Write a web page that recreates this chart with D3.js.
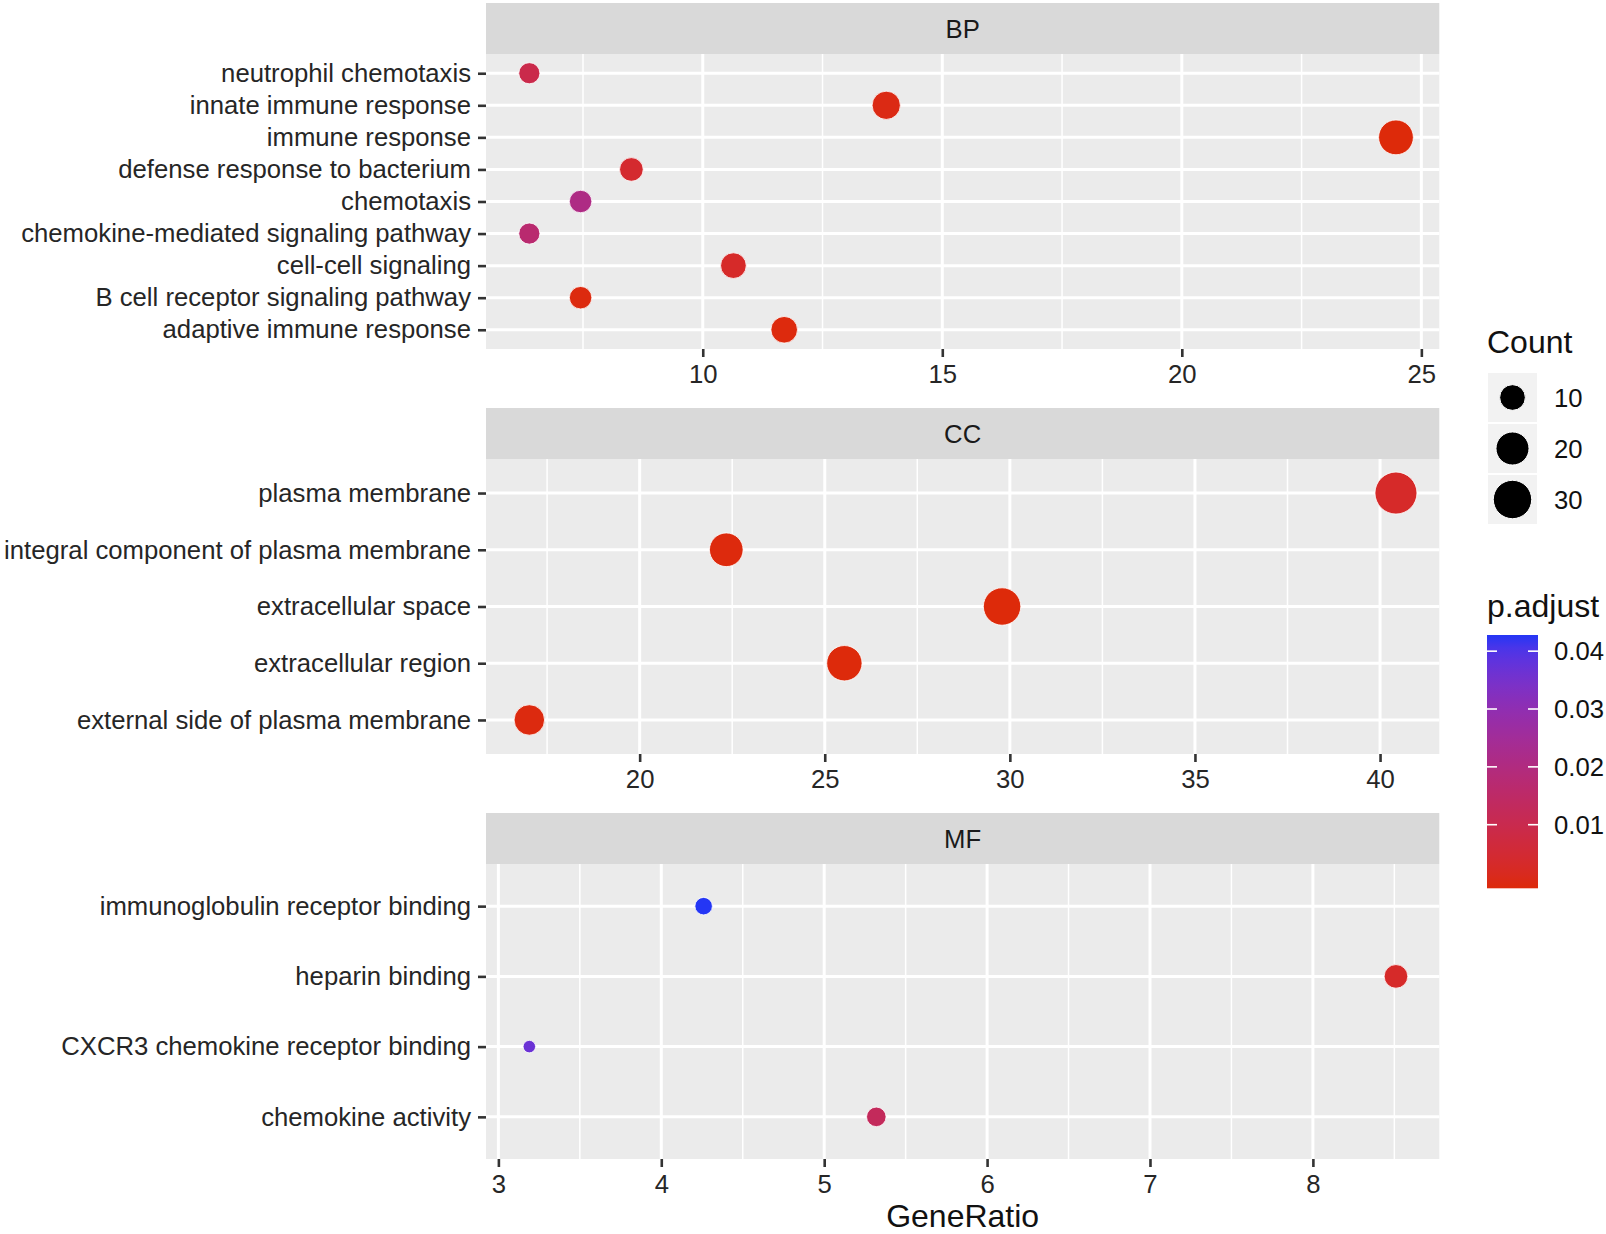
<!DOCTYPE html>
<html lang="en">
<head>
<meta charset="UTF-8">
<title>GO enrichment dotplot</title>
<style>
  body { margin: 0; background: #fff; }
  svg { display: block; font-family: "Liberation Sans", Arial, sans-serif; }
</style>
</head>
<body>
<div id="chart"></div>
<script src="https://d3js.org/d3.v7.min.js"></script>
<script>
// BP terms, top to bottom
const bpTerms = ["neutrophil chemotaxis", "innate immune response", "immune response",
  "defense response to bacterium", "chemotaxis", "chemokine-mediated signaling pathway",
  "cell-cell signaling", "B cell receptor signaling pathway", "adaptive immune response"];
const bpRatio = [6.38, 13.83, 24.47, 8.51, 7.45, 6.38, 10.64, 7.45, 11.70];
const bpCount = [6, 13, 23, 8, 7, 6, 10, 7, 11];
const bpPadj = [0.010, 0.001, 0.0001, 0.005, 0.021, 0.017, 0.004, 0.0005, 0.0003];

// CC terms
const ccTerms = ["plasma membrane", "integral component of plasma membrane", "extracellular space",
  "extracellular region", "external side of plasma membrane"];
const ccRatio = [40.43, 22.34, 29.79, 25.53, 17.02];
const ccCount = [38, 21, 28, 24, 16];
const ccPadj = [0.004, 0.0003, 0.0001, 0.0002, 0.0005];

// MF terms
const mfTerms = ["immunoglobulin receptor binding", "heparin binding",
  "CXCR3 chemokine receptor binding", "chemokine activity"];
const mfRatio = [4.26, 8.51, 3.19, 5.32];
const mfCount = [4, 8, 3, 5];
const mfPadj = [0.0417, 0.004, 0.036, 0.013];

const facetNames = ["BP", "CC", "MF"];
const sizeBreaks = [10, 20, 30];
const colorBreaks = [0.01, 0.02, 0.03, 0.04];
const xTitle = "GeneRatio";

const facets = [
  { name: facetNames[0], terms: bpTerms, ratio: bpRatio, count: bpCount, padj: bpPadj },
  { name: facetNames[1], terms: ccTerms, ratio: ccRatio, count: ccCount, padj: ccPadj },
  { name: facetNames[2], terms: mfTerms, ratio: mfRatio, count: mfCount, padj: mfPadj }
];

const W = 1606, H = 1234;
const left = 486, right = 1439.3;
const stripH = 51, panelH = 295, pitch = 405, top0 = 3;
const axisFont = 25.7, titleFont = 32;

const svg = d3.select("#chart").append("svg")
  .attr("width", W).attr("height", H);

const allCounts = bpCount.concat(ccCount, mfCount);
const allPadj = bpPadj.concat(ccPadj, mfPadj);
const cMin = d3.min(allCounts), cMax = d3.max(allCounts);
const pMin = d3.min(allPadj), pMax = d3.max(allPadj);

// ggplot style area scale
const sizeNorm = d3.scaleLinear().domain([cMin, cMax]).range([0, 1]).clamp(true);
const diam = d3.scaleLinear().domain([0, 1]).range([12.5, 42]);
const radius = c => diam(Math.sqrt(sizeNorm(c))) / 2;

const color = d3.scaleLinear().domain([pMin, pMax])
  .range(["#dd2a0a", "#2436f5"]).interpolate(d3.interpolateLab);

facets.forEach((f, i) => {
  const sTop = top0 + i * pitch;
  const pTop = sTop + stripH;
  const pBot = pTop + panelH;

  const lo = d3.min(f.ratio), hi = d3.max(f.ratio);
  const pad = (hi - lo) * 0.05;
  const x = d3.scaleLinear().domain([lo - pad, hi + pad]).range([left, right]);
  const y = d3.scalePoint().domain(f.terms).range([pTop, pBot]).padding(0.6);

  const g = svg.append("g");

  // strip
  g.append("rect").attr("x", left).attr("y", sTop)
    .attr("width", right - left).attr("height", stripH).attr("fill", "#d9d9d9");
  g.append("text").attr("x", (left + right) / 2).attr("y", sTop + stripH / 2 + 9)
    .attr("text-anchor", "middle").attr("font-size", axisFont).attr("fill", "#1a1a1a")
    .text(f.name);

  // panel
  g.append("rect").attr("x", left).attr("y", pTop)
    .attr("width", right - left).attr("height", panelH).attr("fill", "#ebebeb");

  const ticks = x.ticks(5);
  const step = ticks[1] - ticks[0];
  const minor = [];
  for (let v = ticks[0] - step / 2; v <= x.domain()[1]; v += step) {
    if (v >= x.domain()[0]) minor.push(v);
  }

  g.selectAll(".minor").data(minor).join("line")
    .attr("x1", d => x(d)).attr("x2", d => x(d))
    .attr("y1", pTop).attr("y2", pBot)
    .attr("stroke", "#fff").attr("stroke-width", 1.5);
  g.selectAll(".vmajor").data(ticks).join("line")
    .attr("x1", d => x(d)).attr("x2", d => x(d))
    .attr("y1", pTop).attr("y2", pBot)
    .attr("stroke", "#fff").attr("stroke-width", 3);
  g.selectAll(".hmajor").data(f.terms).join("line")
    .attr("x1", left).attr("x2", right)
    .attr("y1", d => y(d)).attr("y2", d => y(d))
    .attr("stroke", "#fff").attr("stroke-width", 3);

  // axes
  const xa = g.append("g").attr("transform", `translate(0,${pBot})`)
    .call(d3.axisBottom(x).tickValues(ticks).tickSize(8).tickPadding(7).tickFormat(d3.format("d")));
  const ya = g.append("g").attr("transform", `translate(${left},0)`)
    .call(d3.axisLeft(y).tickSize(8).tickPadding(7));
  [xa, ya].forEach(a => {
    a.select(".domain").remove();
    a.selectAll(".tick line").attr("stroke", "#333").attr("stroke-width", 2.6);
    a.selectAll(".tick text").attr("font-size", axisFont).attr("fill", "#262626")
      .attr("font-family", "\"Liberation Sans\", Arial, sans-serif");
  });
  xa.selectAll(".tick text").attr("dy", "0.72em");

  // points
  const rows = f.terms.map((t, k) => ({ term: t, ratio: f.ratio[k], count: f.count[k], padj: f.padj[k] }));
  g.selectAll(".pt").data(rows).join("circle")
    .attr("cx", d => x(d.ratio)).attr("cy", d => y(d.term))
    .attr("r", d => radius(d.count))
    .attr("fill", d => color(d.padj))
    .attr("stroke", "#fff").attr("stroke-width", 1).attr("stroke-opacity", 0.8);
});

// x axis title
svg.append("text").attr("x", (left + right) / 2).attr("y", 1227)
  .attr("text-anchor", "middle").attr("font-size", titleFont).attr("fill", "#111")
  .text(xTitle);

// size legend
const lgX = 1487, keyW = 51;
svg.append("text").attr("x", lgX).attr("y", 353).attr("font-size", titleFont).attr("fill", "#111")
  .text("Count");
const keys = svg.append("g");
sizeBreaks.forEach((b, k) => {
  const ky = 372 + k * keyW;
  keys.append("rect").attr("x", lgX).attr("y", ky).attr("width", keyW).attr("height", keyW)
    .attr("fill", "#f2f2f2").attr("stroke", "#fff").attr("stroke-width", 2);
  keys.append("circle").attr("cx", lgX + keyW / 2).attr("cy", ky + keyW / 2)
    .attr("r", radius(b)).attr("fill", "#000")
    .attr("stroke", "#fff").attr("stroke-width", 1);
  keys.append("text").attr("x", 1554).attr("y", ky + keyW / 2 + 9)
    .attr("font-size", axisFont).attr("fill", "#111").text(b);
});

// colour bar
svg.append("text").attr("x", lgX).attr("y", 617).attr("font-size", titleFont).attr("fill", "#111")
  .text("p.adjust");
const barTop = 635, barBot = 888.3, off = (barBot - barTop) * 0.025;
const grad = svg.append("defs").append("linearGradient").attr("id", "pgrad")
  .attr("x1", 0).attr("y1", 1).attr("x2", 0).attr("y2", 0);
d3.range(0, 1.0001, 0.05).forEach(t => {
  grad.append("stop").attr("offset", t).attr("stop-color", color(pMin + t * (pMax - pMin)));
});
svg.append("rect").attr("x", lgX).attr("y", barTop).attr("width", keyW)
  .attr("height", barBot - barTop).attr("fill", "url(#pgrad)");
const cy = d3.scaleLinear().domain([pMin, pMax]).range([barBot - off, barTop + off]);
colorBreaks.forEach(b => {
  [lgX, lgX + keyW - 10].forEach(x0 => {
    svg.append("line").attr("x1", x0).attr("x2", x0 + 10)
      .attr("y1", cy(b)).attr("y2", cy(b))
      .attr("stroke", "#fff").attr("stroke-width", 1.6);
  });
  svg.append("text").attr("x", 1554).attr("y", cy(b) + 9)
    .attr("font-size", axisFont).attr("fill", "#111").text(b.toFixed(2));
});
</script>
</body>
</html>
